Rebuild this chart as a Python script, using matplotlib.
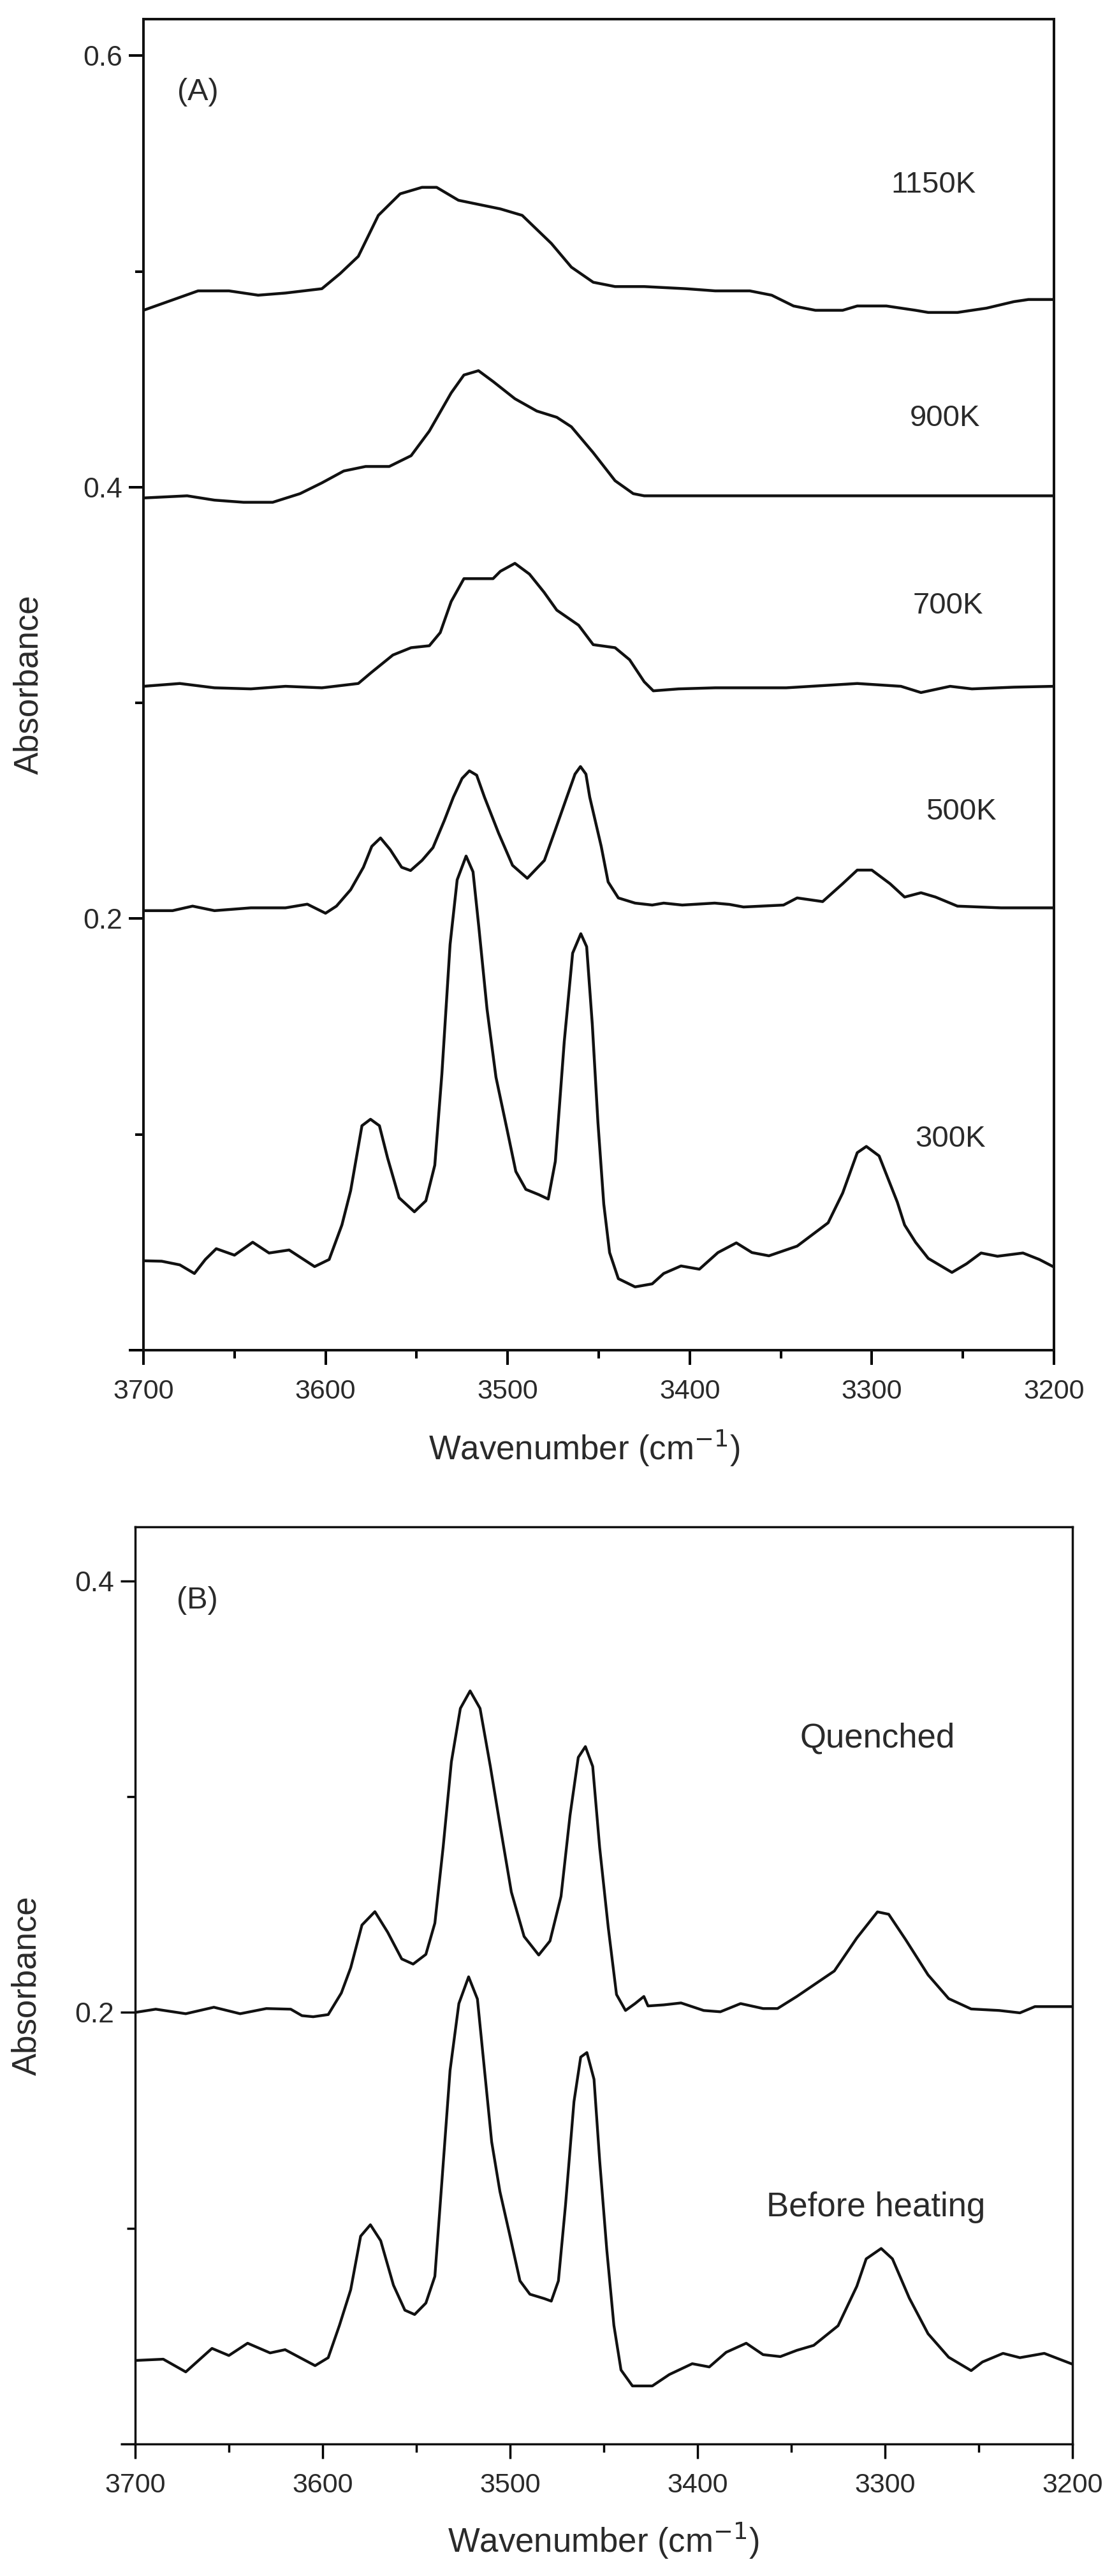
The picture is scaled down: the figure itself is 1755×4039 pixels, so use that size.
import matplotlib
matplotlib.use("Agg")
import matplotlib.pyplot as plt
from matplotlib.ticker import FixedLocator

plt.rcParams['font.family'] = ['Liberation Sans', 'DejaVu Sans']

# ---- panel A: spectra at temperature ----
wn_1150 = [3700, 3670, 3653, 3637, 3622, 3602, 3592, 3582, 3571, 3559, 3547, 3539, 3527,
           3504, 3492, 3476, 3465, 3453, 3441, 3425, 3402, 3386, 3367, 3355, 3343, 3331,
           3316, 3308, 3292, 3276, 3269, 3253, 3237, 3222, 3214, 3200]
abs_1150 = [0.482, 0.491, 0.491, 0.489, 0.490, 0.492, 0.499, 0.507, 0.526, 0.536, 0.539, 0.539, 0.533,
            0.529, 0.526, 0.513, 0.502, 0.495, 0.493, 0.493, 0.492, 0.491, 0.491, 0.489, 0.484, 0.482,
            0.482, 0.484, 0.484, 0.482, 0.481, 0.481, 0.483, 0.486, 0.487, 0.487]

wn_900 = [3700, 3676, 3661, 3645, 3629, 3614, 3602, 3590, 3578, 3565, 3553, 3543, 3531, 3524,
          3516, 3508, 3496, 3484, 3473, 3465, 3453, 3441, 3431, 3425, 3386, 3347, 3308, 3269,
          3229, 3200]
abs_900 = [0.395, 0.396, 0.394, 0.393, 0.393, 0.397, 0.402, 0.4075, 0.4096, 0.4096, 0.4146, 0.426,
           0.4437, 0.452, 0.454, 0.449, 0.441, 0.4353, 0.4324, 0.428, 0.416, 0.403, 0.397, 0.396,
           0.396, 0.396, 0.396, 0.396, 0.396, 0.396]

wn_700 = [3700, 3680, 3661, 3641, 3622, 3602, 3582, 3575, 3563, 3553, 3543, 3537, 3531, 3524,
          3516, 3508, 3504, 3496, 3488, 3480, 3473, 3461, 3453, 3441, 3433, 3425, 3420, 3406,
          3386, 3347, 3308, 3284, 3273, 3257, 3245, 3222, 3200]
abs_700 = [0.3077, 0.309, 0.307, 0.3065, 0.3077, 0.307, 0.309, 0.314, 0.3222, 0.3256, 0.3265,
           0.3326, 0.347, 0.3576, 0.3576, 0.3576, 0.361, 0.3647, 0.3597, 0.3513, 0.343, 0.336,
           0.327, 0.3256, 0.320, 0.3098, 0.3056, 0.3065, 0.307, 0.307, 0.309, 0.3077, 0.3048,
           0.3077, 0.3065, 0.3073, 0.3077]

wn_500 = [3700, 3684, 3673, 3661, 3641, 3622, 3610, 3600, 3594, 3586.2, 3579.2, 3574.6, 3569.8,
          3564.5, 3558.2, 3553.3, 3547, 3541, 3534.7, 3529.8, 3525, 3521, 3517, 3512.7, 3505,
          3497.3, 3489.2, 3479.8, 3473.8, 3467.5, 3463, 3460, 3457, 3454.9, 3448.6, 3444.8,
          3439.2, 3430, 3420.6, 3414.3, 3404.1, 3386.3, 3378.2, 3370.5, 3348.5, 3341, 3327,
          3316, 3308, 3300, 3290, 3282, 3273, 3265, 3253, 3229, 3200]
abs_500 = [0.2037, 0.2037, 0.2058, 0.2037, 0.205, 0.205, 0.2067, 0.2025, 0.2058, 0.2134, 0.2238,
           0.2335, 0.2374, 0.232, 0.2238, 0.2223, 0.227, 0.2329, 0.2456, 0.2563, 0.265, 0.2685,
           0.2665, 0.2563, 0.2397, 0.2247, 0.2187, 0.227, 0.2412, 0.2563, 0.267, 0.2705, 0.267,
           0.2563, 0.2335, 0.217, 0.2096, 0.2072, 0.2063, 0.2072, 0.2063, 0.2072, 0.2066,
           0.2054, 0.2063, 0.2096, 0.2079, 0.2162, 0.2225, 0.2225, 0.2162, 0.2100, 0.212,
           0.2100, 0.2058, 0.205, 0.205]

wn_300 = [3700, 3690, 3680, 3672, 3666, 3660, 3650, 3640, 3631, 3620, 3606, 3598, 3591,
          3586.2, 3580, 3575.3, 3570.4, 3565.9, 3559.6, 3551.2, 3544.9, 3540, 3536.1, 3531.6,
          3527.7, 3522.8, 3519, 3515.8, 3511.3, 3506.4, 3500.4, 3495.5, 3490, 3483, 3477.7,
          3473.8, 3468.9, 3464.3, 3459.8, 3456.6, 3453.5, 3450.4, 3447.2, 3444, 3439.2, 3430,
          3420.6, 3414.3, 3404.8, 3394.7, 3384.5, 3374.4, 3365.8, 3356.5, 3341, 3324, 3316,
          3308, 3303, 3296, 3286, 3282, 3276, 3269, 3256, 3248, 3240, 3231, 3217, 3208, 3200]
abs_300 = [0.0414, 0.0412, 0.0395, 0.0355, 0.042, 0.047, 0.044, 0.050, 0.045, 0.0464, 0.0387,
           0.042, 0.058, 0.0739, 0.104, 0.107, 0.104, 0.089, 0.0706, 0.0641, 0.0692, 0.0857,
           0.128, 0.188, 0.218, 0.229, 0.2217, 0.196, 0.158, 0.1265, 0.1026, 0.0828, 0.0745,
           0.0721, 0.070, 0.0875, 0.143, 0.184, 0.193, 0.187, 0.151, 0.1055, 0.0677, 0.0452,
           0.0331, 0.0293, 0.0307, 0.0355, 0.039, 0.0375, 0.0452, 0.0497, 0.0452, 0.0437,
           0.0482, 0.059, 0.0728, 0.0915, 0.0944, 0.090, 0.0686, 0.058, 0.050, 0.0425, 0.036,
           0.040, 0.045, 0.0435, 0.045, 0.042, 0.0385]

labels_a = ["1150K", "900K", "700K", "500K", "300K"]
label_wn_a = [3266, 3260, 3258, 3251, 3257]
label_abs_a = [0.540, 0.432, 0.345, 0.2495, 0.0977]

# ---- panel B: quenched vs before heating ----
wn_q = [3700, 3689, 3673, 3658, 3644, 3630, 3617, 3611, 3605, 3597, 3590, 3585, 3579, 3572.1,
        3565.3, 3557.8, 3551.7, 3544.9, 3540.1, 3535.7, 3531.3, 3526.5, 3521.3, 3516, 3510.5,
        3505.4, 3499.3, 3492.5, 3484.7, 3478.7, 3472.8, 3468, 3463.6, 3459.8, 3455.9, 3452.2,
        3447.6, 3443.2, 3438.4, 3433.3, 3428.6, 3426.4, 3418, 3408.8, 3396.7, 3387.8, 3377,
        3365, 3357.3, 3347, 3327, 3315, 3304, 3298, 3289, 3277, 3266, 3254, 3239, 3228, 3220,
        3200]
abs_q = [0.200, 0.2015, 0.1994, 0.2024, 0.1994, 0.2018, 0.2015, 0.1985, 0.198, 0.199, 0.209,
         0.2207, 0.2405, 0.2467, 0.2372, 0.2248, 0.2224, 0.2269, 0.2414, 0.2765, 0.3161, 0.3409,
         0.349, 0.3409, 0.314, 0.2871, 0.2558, 0.2352, 0.2266, 0.2331, 0.2538, 0.2913, 0.3182,
         0.3232, 0.314, 0.2765, 0.2393, 0.2083, 0.2009, 0.2041, 0.2074, 0.203, 0.2035, 0.2044,
         0.2009, 0.2003, 0.2041, 0.2018, 0.2018, 0.2074, 0.2192, 0.2345, 0.2466, 0.2455,
         0.2338, 0.2174, 0.2064, 0.2016, 0.2009, 0.1998, 0.2027, 0.2027]

wn_bh = [3700, 3685, 3673, 3659, 3650, 3640, 3628, 3620, 3604, 3597, 3591, 3585, 3579.7,
         3574.5, 3569, 3562.2, 3556.1, 3550.9, 3544.9, 3540.1, 3536.4, 3532, 3527.3, 3522.1,
         3517.4, 3513.6, 3509.8, 3505.4, 3500, 3494.7, 3489.4, 3481.8, 3478, 3474.2, 3470.4,
         3465.9, 3462.3, 3459, 3455.2, 3452.2, 3448.4, 3444.6, 3440.8, 3434.7, 3424.1, 3415,
         3402.8, 3393.7, 3384.7, 3374, 3365, 3355.8, 3347, 3338, 3325, 3315, 3310, 3302, 3296,
         3287, 3277, 3266, 3254, 3248, 3237, 3228, 3215, 3200]
abs_bh = [0.0387, 0.0393, 0.0334, 0.0443, 0.041, 0.0467, 0.0422, 0.0437, 0.0363, 0.040, 0.055,
          0.0715, 0.0963, 0.1016, 0.0942, 0.0736, 0.062, 0.060, 0.0653, 0.0777, 0.1211, 0.1731,
          0.2041, 0.2165, 0.2062, 0.1731, 0.14, 0.117, 0.0963, 0.0756, 0.0694, 0.0674, 0.0662,
          0.0756, 0.1108, 0.1586, 0.1793, 0.1814, 0.169, 0.1315, 0.0901, 0.055, 0.0343, 0.0269,
          0.0269, 0.0322, 0.0372, 0.0357, 0.0425, 0.0467, 0.0414, 0.0405, 0.0434, 0.0457,
          0.0548, 0.0731, 0.0858, 0.0906, 0.0858, 0.0676, 0.0511, 0.0402, 0.034, 0.038, 0.042,
          0.040, 0.042, 0.037]

labels_b = ["Quenched", "Before heating"]
label_wn_b = [3304, 3305]
label_abs_b = [0.327, 0.1096]

text_col = '#2a2a2a'

fig = plt.figure(figsize=(17.56, 40.39), dpi=100)
ax_a = fig.add_axes([0.1281, 0.4759, 0.8132, 0.5167])
ax_b = fig.add_axes([0.1207, 0.05125, 0.8371, 0.3560])


def style_axis(ax, ylim, majors, minors, ylabels, lw):
    ax.set_xlim(3700, 3200)
    ax.set_ylim(*ylim)
    ax.xaxis.set_major_locator(FixedLocator([3700, 3600, 3500, 3400, 3300, 3200]))
    ax.xaxis.set_minor_locator(FixedLocator([3650, 3550, 3450, 3350, 3250]))
    ax.yaxis.set_major_locator(FixedLocator(majors))
    ax.yaxis.set_minor_locator(FixedLocator(minors))
    ax.set_yticklabels(ylabels)
    ax.tick_params(which='major', direction='out', length=16.5, width=lw,
                   labelsize=31, labelcolor=text_col, top=False, right=False)
    ax.tick_params(which='minor', direction='out', length=9.5, width=lw,
                   top=False, right=False)
    ax.tick_params(axis='x', which='major', pad=16)
    ax.tick_params(axis='y', which='major', pad=7, labelsize=32)
    for sp in ax.spines.values():
        sp.set_linewidth(lw)
        sp.set_color('#111111')


# panel A
for wn, ab in [(wn_1150, abs_1150), (wn_900, abs_900), (wn_700, abs_700),
               (wn_500, abs_500), (wn_300, abs_300)]:
    ax_a.plot(wn, ab, color='#111111', lw=3.2, solid_joinstyle='round')
for lab, xw, ya in zip(labels_a, label_wn_a, label_abs_a):
    ax_a.text(xw, ya, lab, fontsize=34, color=text_col, ha='center', va='center')
ax_a.text(3670, 0.583, "(A)", fontsize=35, color=text_col, ha='center', va='center')
style_axis(ax_a, (0.0, 0.617), [0.0, 0.2, 0.4, 0.6], [0.1, 0.3, 0.5],
           ['', '0.2', '0.4', '0.6'], 2.9)
ax_a.set_xlabel("Wavenumber (cm$^{-1}$)", fontsize=38, color=text_col, va='center')
ax_a.xaxis.set_label_coords(0.484, -0.0738)
ax_a.set_ylabel("Absorbance", fontsize=38, color=text_col, va='center')
ax_a.yaxis.set_label_coords(-0.126, 0.5)

# panel B
for wn, ab in [(wn_q, abs_q), (wn_bh, abs_bh)]:
    ax_b.plot(wn, ab, color='#111111', lw=3.1, solid_joinstyle='round')
for lab, xw, ya in zip(labels_b, label_wn_b, label_abs_b):
    ax_b.text(xw, ya, lab, fontsize=38, color=text_col, ha='center', va='center')
ax_b.text(3667, 0.391, "(B)", fontsize=35, color=text_col, ha='center', va='center')
style_axis(ax_b, (0.0, 0.425), [0.0, 0.2, 0.4], [0.1, 0.3],
           ['', '0.2', '0.4'], 2.5)
ax_b.set_xlabel("Wavenumber (cm$^{-1}$)", fontsize=38, color=text_col, va='center')
ax_b.xaxis.set_label_coords(0.5, -0.1057)
ax_b.set_ylabel("Absorbance", fontsize=38, color=text_col, va='center')
ax_b.yaxis.set_label_coords(-0.1156, 0.5)

fig.savefig("out.png", dpi=100, facecolor='white')
